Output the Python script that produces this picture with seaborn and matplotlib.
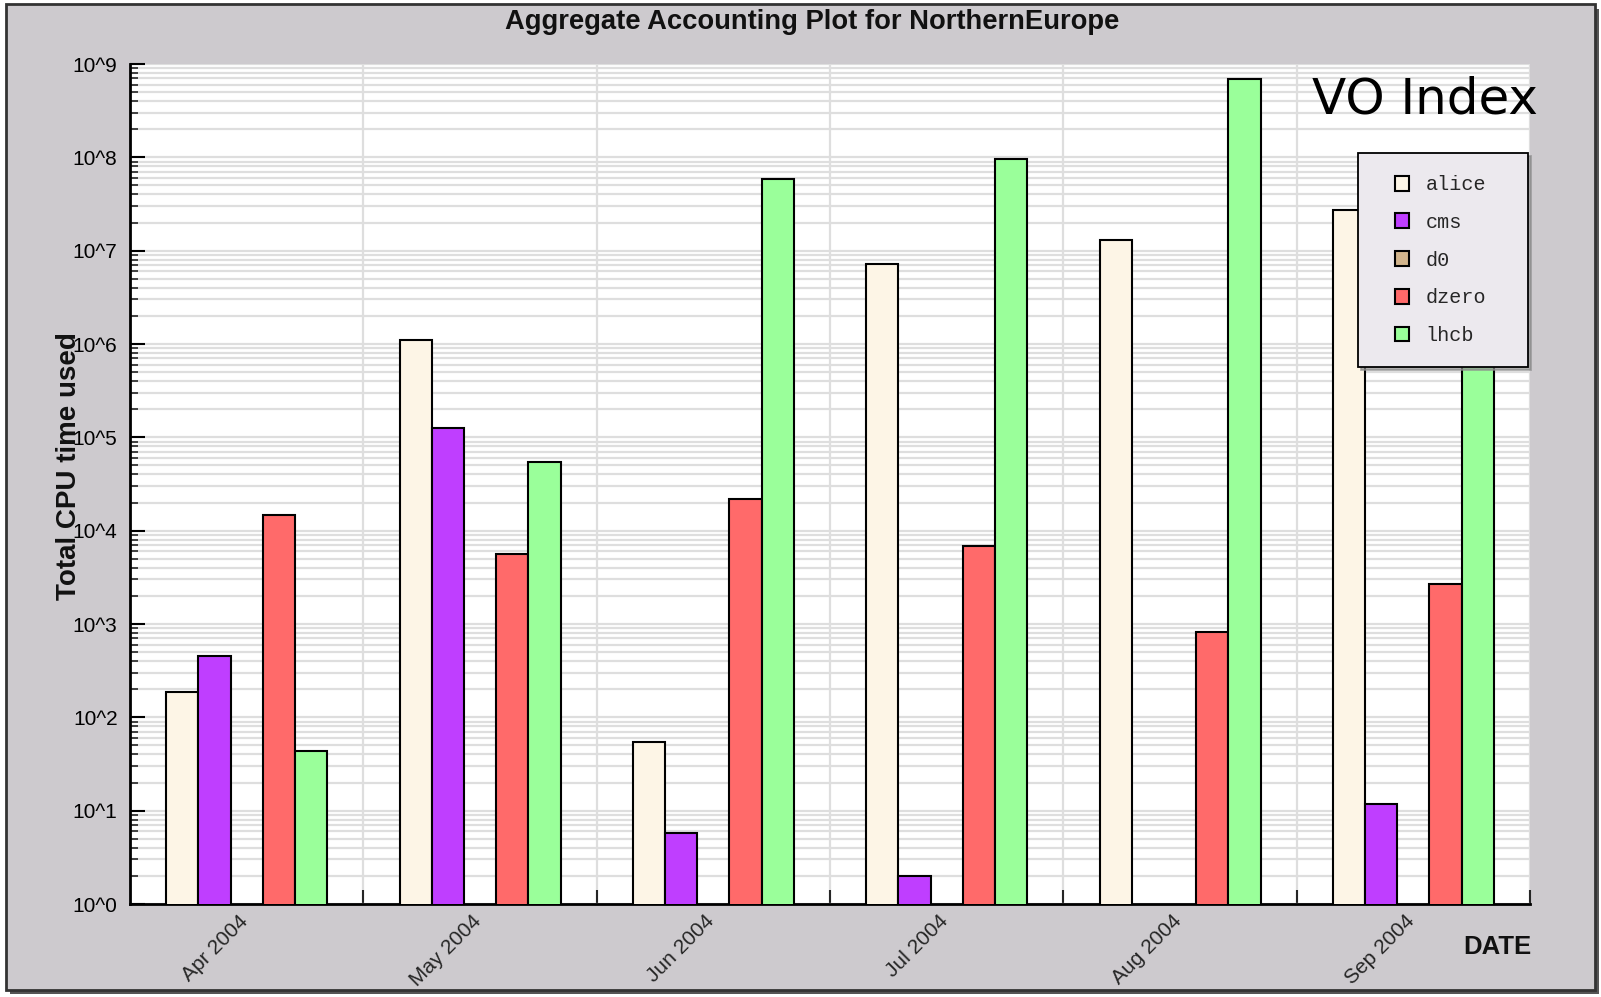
import numpy as np
import pandas as pd
import matplotlib
matplotlib.use("Agg")
import matplotlib.pyplot as plt
import matplotlib.transforms as mtransforms
import seaborn as sns
from matplotlib.patches import Patch, Rectangle
from matplotlib.legend_handler import HandlerPatch
from matplotlib.ticker import FixedLocator, NullFormatter

months = ["Apr 2004", "May 2004", "Jun 2004", "Jul 2004", "Aug 2004", "Sep 2004"]
vos = ["alice", "cms", "d0", "dzero", "lhcb"]
alice = [185, 1.1e6, 54, 7.2e6, 1.3e7, 2.7e7]
cms = [450, 1.27e5, 5.8, 2.0, np.nan, 11.8]
d0 = [np.nan, np.nan, np.nan, np.nan, np.nan, np.nan]
dzero = [1.48e4, 5.6e3, 2.2e4, 6.8e3, 820, 2.7e3]
lhcb = [44, 5.5e4, 5.8e7, 9.6e7, 6.9e8, 2.0e6]
colors = ["#fdf5e6", "#bf3eff", "#d2b48c", "#ff6a6a", "#9aff9a"]
ytick_labels = ["10^%d" % i for i in range(10)]

series = {"alice": alice, "cms": cms, "d0": d0, "dzero": dzero, "lhcb": lhcb}
rows = []
for vo in vos:
    for m, v in zip(months, series[vo]):
        rows.append({"month": m, "vo": vo, "cpu": v})
df = pd.DataFrame(rows)

sns.set_theme(style="white")
plt.rcParams["font.family"] = ["Liberation Sans", "DejaVu Sans"]

W, H = 1601, 997
fig = plt.figure(figsize=(W / 100, H / 100), dpi=100, facecolor="white")

# outer gray frame with shadow
fig.patches.append(Rectangle((10 / W, 1 - 994 / H), 1589 / W, 985 / H,
                             transform=fig.transFigure, facecolor="#555555",
                             edgecolor="none", zorder=-3))
fig.patches.append(Rectangle((6 / W, 1 - 990 / H), 1589 / W, 986 / H,
                             transform=fig.transFigure, facecolor="#cdcace",
                             edgecolor="#333333", linewidth=2, zorder=-2))

L, R, T, B = 130, 1530, 64, 904
ax = fig.add_axes([L / W, 1 - B / H, (R - L) / W, (B - T) / H])
ax.set_facecolor("white")

palette = dict(zip(vos, colors))
sns.barplot(data=df, x="month", y="cpu", hue="vo", hue_order=vos, order=months,
            palette=palette, saturation=1, width=0.69, gap=0, edgecolor="black",
            linewidth=1.5, errorbar=None, legend=False, ax=ax, zorder=3)

ax.set_yscale("log")
ax.set_ylim(1, 1e9)
ax.set_xlim(-0.5, len(months) - 0.5)

# y ticks
ax.yaxis.set_major_locator(FixedLocator([10.0 ** i for i in range(10)]))
ax.set_yticklabels(ytick_labels)
minors = [s * 10.0 ** i for i in range(9) for s in range(2, 10)]
ax.yaxis.set_minor_locator(FixedLocator(minors))
ax.yaxis.set_minor_formatter(NullFormatter())
ax.tick_params(axis="y", which="major", direction="in", length=11, width=1.5,
               labelsize=15, pad=9, left=True, colors="black")
ax.tick_params(axis="y", which="minor", direction="in", length=6, width=1.2, left=True)

# x ticks
ax.set_xticks(range(len(months)))
ax.set_xticklabels(months)
ax.xaxis.set_minor_locator(FixedLocator([i + 0.5 for i in range(len(months))]))
ax.tick_params(axis="x", which="major", length=0, labelsize=15, pad=9)
ax.tick_params(axis="x", which="minor", direction="in", length=10, width=1.5, bottom=True)
offset = mtransforms.ScaledTranslation(5 / 100, 5 / 100, fig.dpi_scale_trans)
for lab in ax.get_xticklabels():
    lab.set_rotation(45)
    lab.set_ha("right")
    lab.set_transform(lab.get_transform() + offset)

ax.yaxis.grid(True, which="both", color="#dedede", linewidth=1.6, zorder=0)
ax.xaxis.grid(True, which="minor", color="#dedede", linewidth=1.6, zorder=0)
ax.xaxis.grid(False, which="major")
ax.set_axisbelow(True)

for s in ["top", "right"]:
    ax.spines[s].set_visible(False)
for s in ["left", "bottom"]:
    ax.spines[s].set_color("black")
    ax.spines[s].set_linewidth(2)

ax.set_xlabel("")
ax.set_ylabel("")

# texts
fig.text(812 / W, 1 - 22 / H, "Aggregate Accounting Plot for NorthernEurope",
         ha="center", va="center", fontsize=19.7, fontweight="bold", color="#111111")
fig.text(69 / W, 1 - 466 / H, "Total CPU time used", rotation=90, ha="center",
         va="center", fontsize=20, fontweight="bold", color="#111111")
fig.text(1531 / W, 1 - 947 / H, "DATE", ha="right", va="center", fontsize=18.5,
         fontweight="bold", color="#111111")
fig.text(1312 / W, 1 - 99 / H, "VO Index", ha="left", va="center", fontsize=36,
         family="DejaVu Sans", color="black", zorder=10)

# legend
def square(legend, orig_handle, xdescent, ydescent, width, height, fontsize):
    s = height
    return Rectangle((-xdescent + width - s, -ydescent), s, s)

handles = [Patch(facecolor=c, edgecolor="black", linewidth=1.5) for c in colors]
lx0, ly0, lx1, ly1 = 1358, 153, 1528, 366
leg = fig.legend(handles, vos, loc="upper left",
                 bbox_to_anchor=(lx0 / W, 1 - ly1 / H, (lx1 - lx0) / W, (ly1 - ly0) / H),
                 bbox_transform=fig.transFigure, mode="expand", borderaxespad=0,
                 prop={"family": "Liberation Mono", "size": 14.5},
                 handler_map={Patch: HandlerPatch(patch_func=square)},
                 handlelength=1.45, handleheight=0.75, handletextpad=0.8,
                 borderpad=1.1, labelspacing=0.93, frameon=True, fancybox=False,
                 shadow={"color": "0.55", "alpha": 0.7}, framealpha=1)
leg.get_frame().set_facecolor("#ece9ee")
leg.get_frame().set_edgecolor("black")
leg.get_frame().set_linewidth(1.3)
leg.set_zorder(20)

fig.savefig("out.png", dpi=100, facecolor="white")
